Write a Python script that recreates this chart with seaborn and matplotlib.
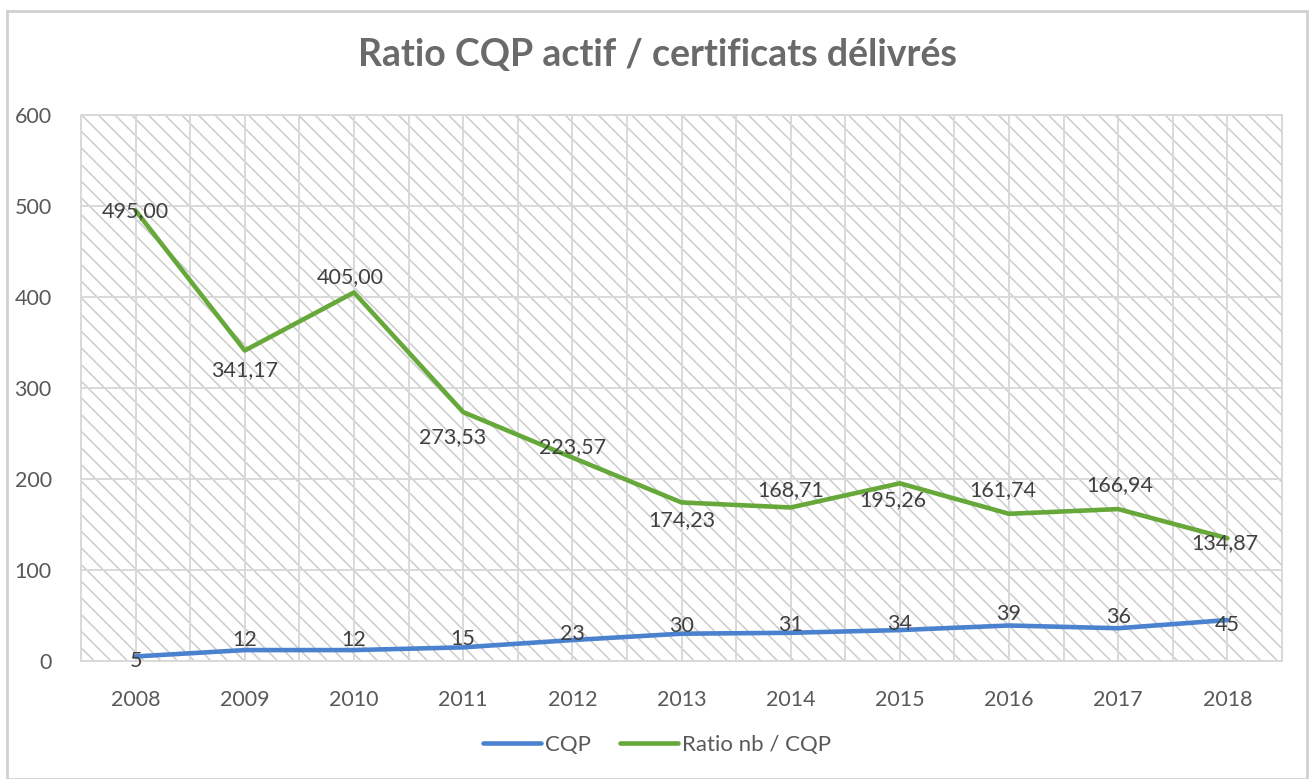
import matplotlib
matplotlib.use("Agg")
import matplotlib.pyplot as plt
import matplotlib.patches as mpatches
import seaborn as sns
import pandas as pd
import numpy as np

years = [2008, 2009, 2010, 2011, 2012, 2013, 2014, 2015, 2016, 2017, 2018]
cqp = [5, 12, 12, 15, 23, 30, 31, 34, 39, 36, 45]
ratio = [495.00, 341.17, 405.00, 273.53, 223.57, 174.23, 168.71, 195.26, 161.74, 166.94, 134.87]
series_names = ["CQP", "Ratio nb / CQP"]
title = "Ratio CQP actif / certificats délivrés"

# label offsets in pixels (style only)
cqp_off = [(0, -5), (0, 10), (0, 10), (0, 8), (0, 6), (0, 8), (0, 8), (0, 6), (0, 12), (0, 11), (0, -5)]
ratio_off = [(0, -1), (0, -20), (-4, 15), (-11, -25), (0, 10), (0, -18), (0, 17), (-7, -17), (-6, 24), (2, 24), (-3, -5)]

df = pd.DataFrame({
    "year": years * 2,
    "value": cqp + ratio,
    "series": [series_names[0]] * len(years) + [series_names[1]] * len(years),
})

sns.set_theme(style="white")
plt.rcParams["font.family"] = ["Lato", "DejaVu Sans"]
plt.rcParams["hatch.linewidth"] = 1.1

W, H = 1309, 779
fig = plt.figure(figsize=(W / 100, H / 100), dpi=100)
fig.patch.set_facecolor("white")

# outer frame
fig.add_artist(mpatches.Rectangle((7 / W, 0), (1307 - 7) / W, 1 - 11 / H,
                                  transform=fig.transFigure, fill=False,
                                  edgecolor="#d0d0d0", linewidth=2))

ax = fig.add_axes([81 / W, 1 - 661 / H, (1282 - 81) / W, (661 - 115) / H])
ax.patch.set_facecolor("white")
ax.patch.set_hatch("\\\\")
ax.patch.set_edgecolor("#cccccc")

colors = ["#4a82cf", "#66a83a"]
sns.lineplot(data=df, x="year", y="value", hue="series", palette=colors,
             linewidth=3.3, ax=ax, legend=True)

ax.set_xlim(2007.5, 2018.5)
ax.set_ylim(0, 600)
ax.set_yticks(np.arange(0, 601, 100))
ax.set_xticks(years)
ax.set_xticks(np.arange(2007.5, 2019, 1.0), minor=True)
ax.grid(True, which="major", axis="both", color="#d9d9d9", linewidth=1.4)
ax.grid(True, which="minor", axis="x", color="#d9d9d9", linewidth=1.4)
ax.set_axisbelow(True)
for s in ax.spines.values():
    s.set_color("#d9d9d9")
    s.set_linewidth(1.4)
ax.tick_params(axis="both", which="both", length=0, labelsize=15.5, labelcolor="#595959")
ax.tick_params(axis="y", pad=21)
ax.tick_params(axis="x", pad=21)
ax.set_xlabel("")
ax.set_ylabel("")

def fmt(v):
    return f"{v:.2f}".replace(".", ",")

for x, v, (dx, dy) in zip(years, cqp, cqp_off):
    ax.annotate(str(v), (x, v), xytext=(dx, dy), textcoords="offset pixels",
                ha="center", va="center", fontsize=15.5, color="#404040")
for x, v, (dx, dy) in zip(years, ratio, ratio_off):
    ax.annotate(fmt(v), (x, v), xytext=(dx, dy), textcoords="offset pixels",
                ha="center", va="center", fontsize=15.5, color="#404040")

fig.text(657 / W, 1 - 55 / H, title, ha="center", va="center",
         fontsize=27, fontweight="bold", color="#6a6a6a")

leg = ax.legend(loc="center", bbox_to_anchor=(657 / W, 1 - 745 / H),
                bbox_transform=fig.transFigure, ncol=2, frameon=False,
                fontsize=16, handlelength=2.6, handletextpad=0.2,
                columnspacing=1.3)
for t in leg.get_texts():
    t.set_color("#595959")

fig.savefig("out.png", dpi=100)
